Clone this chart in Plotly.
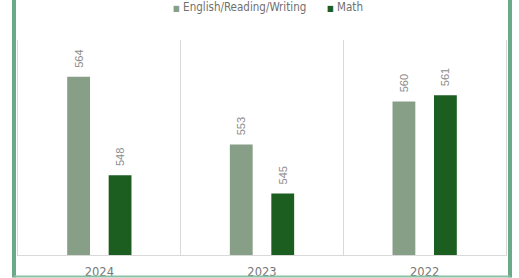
import plotly.graph_objects as go

years = ["2024", "2023", "2022"]
erw = [564, 553, 560]
math = [548, 545, 561]
series_names = ["English/Reading/Writing", "Math"]
colors = ["#879E87", "#1B5E20"]

fig = go.Figure()
for name, vals, col in zip(series_names, [erw, math], colors):
    fig.add_trace(go.Bar(
        x=years, y=vals, name=name,
        marker=dict(color=col, line=dict(width=0)),
        text=["\u00a0\u00a0" + str(v) for v in vals], textposition="outside",
        textangle=-90, cliponaxis=False, constraintext="none",
        textfont=dict(family="Liberation Sans, Arial", size=11, color="#8C8C8C"),
        showlegend=False,
    ))

# legend drawn as text annotations with coloured square glyphs
legend_x = [0.3135, 0.629]
for name, col, lx in zip(series_names, colors, legend_x):
    fig.add_annotation(
        xref="paper", yref="paper", x=lx, y=1.1535, xanchor="left", yanchor="middle",
        showarrow=False,
        text=f"<span style='color:{col};font-size:8px'>■</span>\u00a0{name}",
        font=dict(family="DejaVu Sans Condensed, DejaVu Sans", size=11.5, color="#6F6F6F"),
    )

fig.update_layout(
    width=519, height=278,
    margin=dict(l=18, r=13, t=40, b=23, autoexpand=False),
    paper_bgcolor="white", plot_bgcolor="white",
    barmode="group", bargap=0.49, bargroupgap=0.45,
    showlegend=False,
    font=dict(family="Liberation Sans", color="#7F7F7F"),
)
fig.update_xaxes(
    type="category", tickson="boundaries", showgrid=True, gridcolor="#D9D9D9", gridwidth=1,
    showline=True, linecolor="#D9D9D9", linewidth=1, mirror=False,
    ticks="", ticklabelstandoff=6, automargin=False,
    tickfont=dict(family="DejaVu Sans", size=11.5, color="#777777"),
    range=[-0.5, 2.5],
)
fig.update_yaxes(range=[535, 570], showticklabels=False, ticks="", showgrid=False,
                 zeroline=False, showline=True, mirror=True, linecolor="#D9D9D9",
                 linewidth=1, automargin=False)

# decorative frame around the chart
frame_col = "#6BAA88"
fig.add_shape(type="line", xref="paper", yref="paper", x0=-0.0082, x1=-0.0082, y0=-0.105, y1=1.3,
              line=dict(color=frame_col, width=4))
fig.add_shape(type="line", xref="paper", yref="paper", x0=1.0082, x1=1.0082, y0=-0.105, y1=1.3,
              line=dict(color=frame_col, width=4))
fig.add_shape(type="line", xref="paper", yref="paper", x0=-0.0082, x1=1.0082, y0=-0.1, y1=-0.1,
              line=dict(color="#8CC0A4", width=2))

fig.write_html("out.html", config={"displayModeBar": False},
               post_script="document.body.style.margin='0';")
